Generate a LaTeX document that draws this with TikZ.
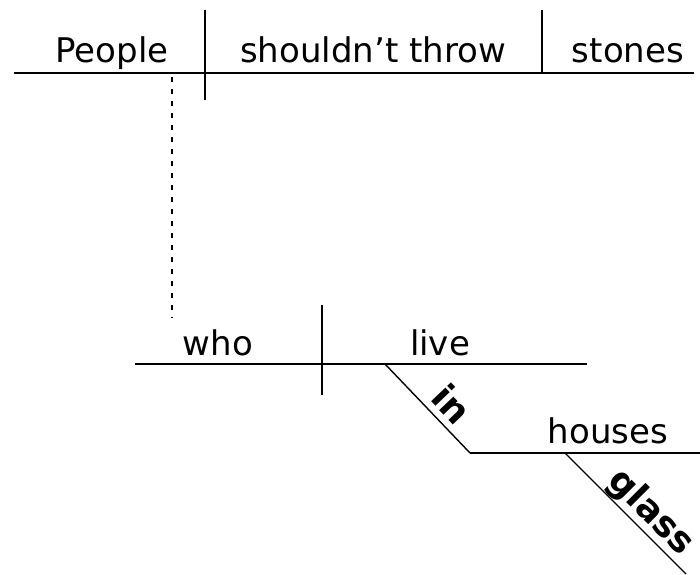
\documentclass[tikz,border=0pt]{standalone}
\usepackage{fontspec}
\setmainfont{DejaVu Sans}

\begin{document}
\begin{tikzpicture}[x=1pt,y=-1pt,
  word/.style={font=\fontsize{34}{40}\selectfont, inner sep=0pt, anchor=base},
  slantword/.style={font=\fontsize{36}{42}\selectfont\bfseries, sloped, above, inner sep=0pt},
  mainline/.style={line width=2pt},
  slantline/.style={line width=1.4pt}]

\useasboundingbox (0,0) rectangle (700,574);

% Main clause
\coordinate (A1) at (14,73);
\coordinate (A2) at (694,73);
\draw[mainline] (A1) -- (A2);
\coordinate (D1) at (205,10);
\coordinate (D2) at (205,100);
\draw[mainline] (D1) -- (D2);
\coordinate (E1) at (542,10);
\coordinate (E2) at (542,73);
\draw[mainline] (E1) -- (E2);
\node[word] (people) at (112,62) {People};
\node[word] (verb) at (373,62) {shouldn't throw};
\node[word] (stones) at (628,62) {stones};

% Relative clause hanging from the subject
\coordinate (R1) at (172,77);
\coordinate (R2) at (172,318);
\draw[line width=2pt, dash pattern=on 5pt off 7pt] (R1) -- (R2);

\coordinate (B1) at (135,364);
\coordinate (B2) at (587,364);
\draw[mainline] (B1) -- (B2);
\coordinate (F1) at (322,305);
\coordinate (F2) at (322,395);
\draw[mainline] (F1) -- (F2);
\node[word] (who) at (218,355) {who};
\node[word] (live) at (440,355) {live};

% Prepositional phrase
\coordinate (P1) at (385,364);
\coordinate (P2) at (470,453);
\coordinate (C2) at (700,453);
\draw[slantline] (P1) -- node[slantword, pos=0.61, yshift=7pt] (in) {in} (P2);
\draw[mainline] (P2) -- (C2);
\node[word] (houses) at (608,443) {houses};

\coordinate (G1) at (565,453);
\coordinate (G2) at (686,574);
\draw[slantline] (G1) -- node[slantword, pos=0.6] (glass) {glass} (G2);
\end{tikzpicture}
\end{document}
